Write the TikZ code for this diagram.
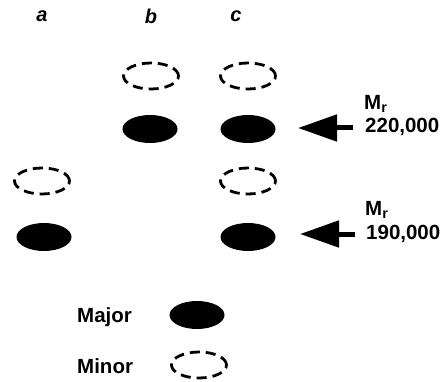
\documentclass[tikz,border=0pt]{standalone}
\usepackage{fontspec}
\setmainfont{Liberation Sans}
\usetikzlibrary{arrows.meta,shapes.geometric}
\begin{document}
\begin{tikzpicture}[x=1pt,y=-1pt,
  major/.style={ellipse,fill=black,minimum width=55pt,minimum height=28pt,inner sep=0pt},
  minor/.style={ellipse,draw=black,line width=2.8pt,dash pattern=on 10pt off 6pt,minimum width=55pt,minimum height=26pt,inner sep=0pt},
  lane/.style={font=\fontsize{20}{22}\selectfont\bfseries\itshape},
  txt/.style={font=\fontsize{20.5}{22}\selectfont\bfseries,inner sep=0pt},
  mw/.style={line width=5pt,-{Triangle[length=39pt,width=26pt]}}]
\useasboundingbox (0,0) rectangle (444,382);
% lane labels
\node[lane] (la) at (42,16) {a};
\node[lane] (lb) at (151,16) {b};
\node[lane] (lc) at (236,16) {c};
% bands
\node[minor] (b1) at (151,76) {};
\node[minor] (c1) at (248,76) {};
\node[major] (b2) at (150,129) {};
\node[major] (c2) at (248,129) {};
\node[minor] (a3) at (42,181) {};
\node[minor] (c3) at (248,181) {};
\node[major] (a4) at (44,237) {};
\node[major] (c4) at (248,237) {};
% markers
\coordinate (t1) at (353,128);
\coordinate (h1) at (298,128);
\draw[mw] (t1) -- (h1);
\node[txt,anchor=west] (m1) at (364,104) {M\textsubscript{r}};
\node[txt,anchor=west] (v1) at (365,127) {220,000};
\coordinate (t2) at (355,234);
\coordinate (h2) at (300,234);
\draw[mw] (t2) -- (h2);
\node[txt,anchor=west] (m2) at (365,210) {M\textsubscript{r}};
\node[txt,anchor=west] (v2) at (366,234) {190,000};
% legend
\node[txt,anchor=west] (lmaj) at (77,317) {Major};
\node[major] (kmaj) at (197,315) {};
\node[txt,anchor=west] (lmin) at (77,366) {Minor};
\node[minor] (kmin) at (199,365) {};
\end{tikzpicture}
\end{document}
